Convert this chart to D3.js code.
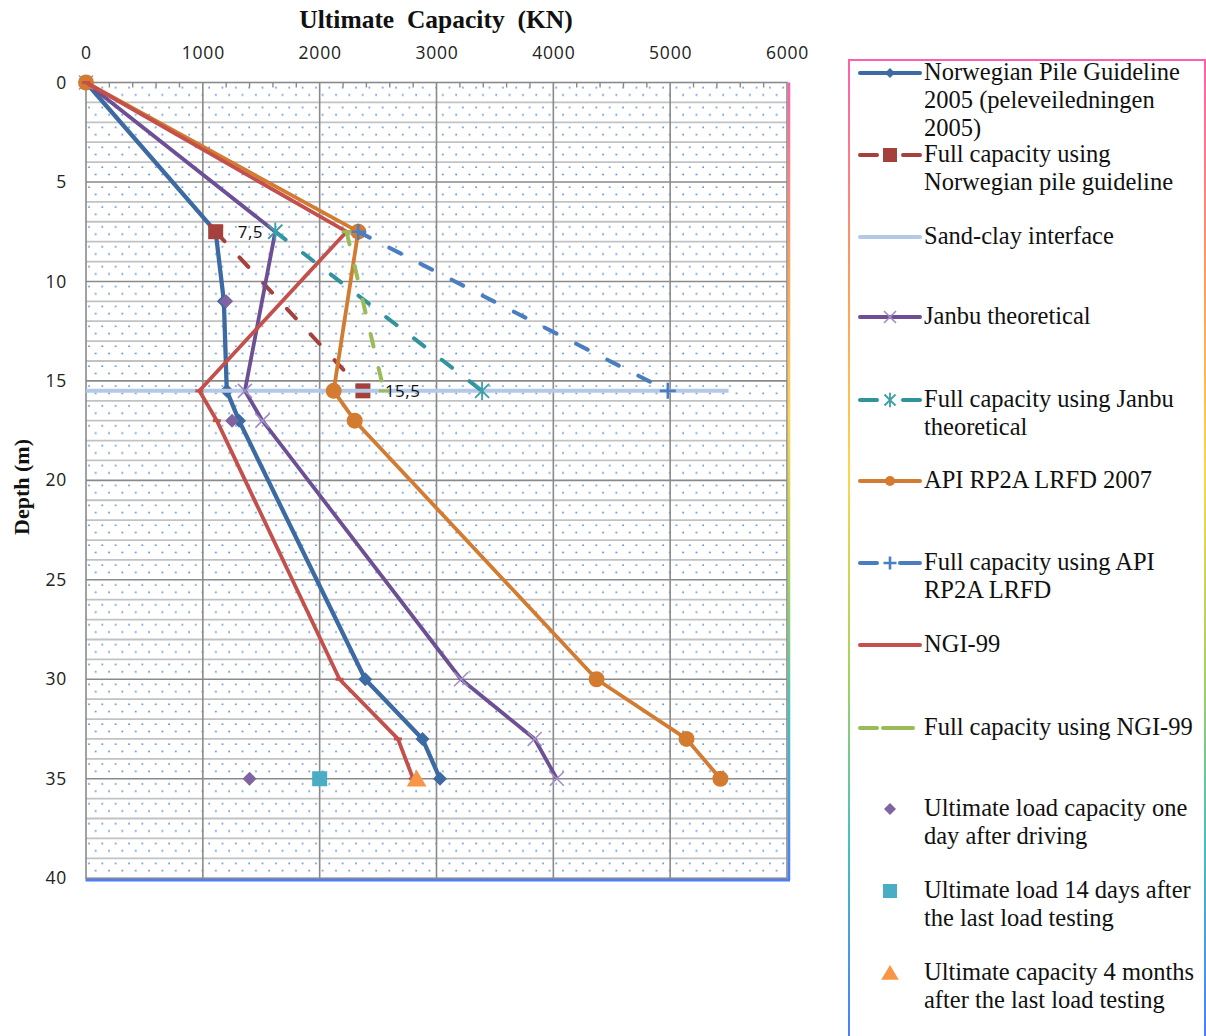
<!DOCTYPE html>
<html><head><meta charset="utf-8">
<script src="https://cdn.jsdelivr.net/npm/d3@7"></script>
<style>body{margin:0;background:#fff}svg{display:block}</style>
</head><body>
<svg id="c" width="1206" height="1036"></svg>
<script>
// ---------------- data ----------------
const xTicks = [0, 1000, 2000, 3000, 4000, 5000, 6000];
const yTicks = [0, 5, 10, 15, 20, 25, 30, 35, 40];
// [capacity kN, depth m]
const norwegian      = [[0,0],[1110,7.5],[1180,11],[1205,15.5],[1310,17],[2390,30],[2880,33],[3030,35]];
const fullNorwegian  = [[1110,7.5],[2370,15.5]];
const fullNorLabels  = ["7,5","15,5"];
const sandClay       = [[0,15.5],[5500,15.5]];
const janbu          = [[0,0],[1620,7.5],[1360,15.5],[1510,17],[3210,30],[3840,33],[4030,35]];
const fullJanbu      = [[1620,7.5],[3390,15.5]];
const api            = [[0,0],[2330,7.5],[2120,15.5],[2300,17],[4370,30],[5140,33],[5430,35]];
const fullApi        = [[2330,7.5],[4980,15.5]];
const ngi            = [[0,0],[2230,7.5],[970,15.5],[1120,17],[2170,30],[2670,33],[2800,35]];
const fullNgi        = [[2230,7.5],[2550,15.5]];
const oneDay         = [[1200,11],[1250,17],[1400,35]];
const days14         = [[2000,35]];
const months4        = [[2830,35]];
const legendLabels = [
  ["Norwegian Pile Guideline","2005 (peleveiledningen","2005)"],
  ["Full capacity using","Norwegian pile guideline"],
  ["Sand-clay interface"],
  ["Janbu theoretical"],
  ["Full capacity using Janbu","theoretical"],
  ["API RP2A LRFD 2007"],
  ["Full capacity using API","RP2A LRFD"],
  ["NGI-99"],
  ["Full capacity using NGI-99"],
  ["Ultimate load capacity one","day after driving"],
  ["Ultimate load 14 days after","the last load testing"],
  ["Ultimate capacity 4 months","after the last load testing"]
];

// ---------------- setup ----------------
const svg = d3.select("#c");
const X0 = 86, X1 = 787, Y0 = 82.5, Y1 = 878.2;
const x = d3.scaleLinear().domain([0,6000]).range([X0,X1]);
const y = d3.scaleLinear().domain([0,40]).range([Y0,Y1]);
const defs = svg.append("defs");

const grad = (id, y1, y2) => {
  const g = defs.append("linearGradient").attr("id", id).attr("gradientUnits","userSpaceOnUse")
    .attr("x1",0).attr("x2",0).attr("y1",y1).attr("y2",y2);
  [["0","#ff5fae"],["0.22","#ff9a5c"],["0.42","#ffd54a"],["0.62","#a6d35a"],["0.8","#45c0c0"],["1","#4a7dff"]]
    .forEach(([o,c]) => g.append("stop").attr("offset",o).attr("stop-color",c));
};
grad("gPlot", Y0, Y1);
grad("gLeg", 60, 1040);

const pat = defs.append("pattern").attr("id","dots").attr("patternUnits","userSpaceOnUse")
  .attr("x",X0).attr("y",Y0).attr("width",(X1-X0)/52.5).attr("height",(Y1-Y0)/40);
pat.append("circle").attr("cx",3).attr("cy",5.1).attr("r",0.95).attr("fill","#5d8fd6");
pat.append("circle").attr("cx",3+(X1-X0)/105).attr("cy",12.4).attr("r",0.95).attr("fill","#5d8fd6");

// plot background
svg.append("rect").attr("x",X0).attr("y",Y0).attr("width",X1-X0).attr("height",Y1-Y0).attr("fill","#fff");
svg.append("rect").attr("x",X0).attr("y",Y0).attr("width",X1-X0).attr("height",Y1-Y0).attr("fill","url(#dots)");

// horizontal grid every 1 m
const g = svg.append("g");
g.selectAll("line.h").data(d3.range(1,40)).join("line")
  .attr("x1",X0).attr("x2",X1).attr("y1",d=>y(d)).attr("y2",d=>y(d))
  .attr("stroke",d=>d%5===0?"#8a8a8a":"#c2c2c2").attr("stroke-width",d=>d%5===0?1.6:1.8);
// vertical grid
g.selectAll("line.v").data(xTicks.slice(1,-1)).join("line")
  .attr("x1",d=>x(d)).attr("x2",d=>x(d)).attr("y1",Y0).attr("y2",Y1)
  .attr("stroke","#8a8a8a").attr("stroke-width",1.6);
// plot border (gray)
svg.append("rect").attr("x",X0).attr("y",Y0).attr("width",X1-X0).attr("height",Y1-Y0)
  .attr("fill","none").attr("stroke","#8a8a8a").attr("stroke-width",1.6);
// top minor ticks
svg.append("g").selectAll("line").data(d3.range(0,6001,200).filter(v=>v%1000!==0)).join("line")
  .attr("x1",d=>x(d)).attr("x2",d=>x(d)).attr("y1",Y0).attr("y2",Y0+5)
  .attr("stroke","#8a8a8a").attr("stroke-width",1.4);
// chart-area gradient border (right, bottom)
svg.append("line").attr("x1",X1+2).attr("x2",X1+2).attr("y1",Y0).attr("y2",Y1+2)
  .attr("stroke","url(#gPlot)").attr("stroke-width",2.5);
svg.append("line").attr("x1",X0-0.5).attr("x2",X1+3).attr("y1",Y1+2).attr("y2",Y1+2)
  .attr("stroke","#4a7dff").attr("stroke-width",2.5);

// axes labels
const xa = d3.axisTop(x).tickValues(xTicks).tickFormat(d3.format("d")).tickSize(0).tickPadding(0);
svg.append("g").attr("transform",`translate(0,59)`).call(xa)
  .call(s=>s.select(".domain").remove())
  .selectAll("text").attr("font-family","Open Sans").attr("font-size",17.5).attr("fill","#222")
  .attr("letter-spacing",0.8).attr("dy",0);
const ya = d3.axisLeft(y).tickValues(yTicks).tickFormat(d3.format("d")).tickSize(0).tickPadding(0);
svg.append("g").attr("transform",`translate(67,0)`).call(ya)
  .call(s=>s.select(".domain").remove())
  .selectAll("text").attr("font-family","Open Sans").attr("font-size",17.5).attr("fill","#222")
  .attr("letter-spacing",0.8);

svg.append("text").attr("x",436).attr("y",28).attr("text-anchor","middle")
  .attr("font-family","Liberation Serif").attr("font-weight","bold").attr("font-size",25.5)
  .attr("fill","#111").style("white-space","pre").text("Ultimate  Capacity  (KN)");
svg.append("text").attr("transform","translate(29,487) rotate(-90)").attr("text-anchor","middle")
  .attr("font-family","Liberation Serif").attr("font-weight","bold").attr("font-size",22)
  .attr("fill","#111").text("Depth (m)");

// ---------------- markers ----------------
function marker(sel, type, cx, cy, col, sz){
  const s = sel.append("g").attr("transform",`translate(${cx},${cy})`);
  if(type==="diamond") s.append("path").attr("d",`M0,${-sz}L${sz},0L0,${sz}L${-sz},0Z`).attr("fill",col);
  else if(type==="square") s.append("rect").attr("x",-sz).attr("y",-sz).attr("width",2*sz).attr("height",2*sz).attr("fill",col);
  else if(type==="circle") s.append("circle").attr("r",sz).attr("fill",col);
  else if(type==="triangle") s.append("path").attr("d",`M0,${-sz}L${sz*1.1},${sz*0.85}L${-sz*1.1},${sz*0.85}Z`).attr("fill",col);
  else if(type==="x") s.append("path").attr("d",`M${-sz},${-sz}L${sz},${sz}M${-sz},${sz}L${sz},${-sz}`).attr("stroke",col).attr("stroke-width",1.6);
  else if(type==="star") s.append("path").attr("d",`M${-sz},${-sz}L${sz},${sz}M${-sz},${sz}L${sz},${-sz}M0,${-sz*1.3}L0,${sz*1.3}`).attr("stroke",col).attr("stroke-width",1.8);
  else if(type==="plus") s.append("path").attr("d",`M${-sz},0L${sz},0M0,${-sz}L0,${sz}`).attr("stroke",col).attr("stroke-width",2.6);
  else if(type==="dash") s.append("path").attr("d",`M${-sz},0L${sz},0`).attr("stroke",col).attr("stroke-width",3);
}

const series = [
  {data:norwegian, col:"#3c6aa3", w:4.3, dash:null, m:"diamond", mc:"#3c6aa3", ms:7},
  {data:fullNorwegian, col:"#a5403d", w:4, dash:"13,22", m:"square", mc:"#a5403d", ms:7.5},
  {data:sandClay, col:"#b4c9e6", w:4, dash:null, m:null},
  {data:janbu, col:"#6c4f95", w:3.8, dash:null, m:"x", mc:"#a28dc4", ms:7},
  {data:fullJanbu, col:"#31939e", w:4, dash:"13,22", m:"star", mc:"#3aa0ab", ms:7},
  {data:api, col:"#d27b31", w:3.8, dash:null, m:"circle", mc:"#d27b31", ms:8},
  {data:fullApi, col:"#4a7ec1", w:4, dash:"13,22", m:"plus", mc:"#4a7ec1", ms:8},
  {data:ngi, col:"#c4504c", w:3.8, dash:null, m:"dash", mc:"#c4504c", ms:4},
  {data:fullNgi, col:"#9bbb59", w:4, dash:"13,22", m:"dash", mc:"#9bbb59", ms:5},
];
const line = d3.line().x(d=>x(d[0])).y(d=>y(d[1]));
const plot = svg.append("g");
series.forEach(s=>{
  const p = plot.append("path").attr("d",line(s.data)).attr("fill","none")
    .attr("stroke",s.col).attr("stroke-width",s.w).attr("stroke-linejoin","round");
  if(s.dash) p.attr("stroke-dasharray",s.dash).attr("stroke-linecap","round");
  if(s.m) s.data.forEach(d=>marker(plot,s.m,x(d[0]),y(d[1]),s.mc,s.ms));
});
// data labels of full capacity (Norwegian)
fullNorwegian.forEach((d,i)=>{
  plot.append("text").attr("x",x(d[0])+22).attr("y",y(d[1])).attr("dy","0.35em")
    .attr("font-family","Open Sans").attr("font-size",17).attr("fill","#111").attr("letter-spacing",0.5)
    .text(fullNorLabels[i]);
});
// scatter
oneDay.forEach(d=>marker(plot,"diamond",x(d[0]),y(d[1]),"#8064a2",7));
days14.forEach(d=>marker(plot,"square",x(d[0]),y(d[1]),"#4bacc6",7.5));
months4.forEach(d=>marker(plot,"triangle",x(d[0]),y(d[1]),"#f79646",9));

// ---------------- legend ----------------
svg.append("rect").attr("x",849).attr("y",60).attr("width",356).attr("height",990)
  .attr("fill","#fff").attr("stroke","url(#gLeg)").attr("stroke-width",2);
const legY = [73,155,237,317,400,481,563,645,728,809,891,973];
const legDef = [
  {col:"#3c6aa3", m:"diamond", mc:"#3c6aa3", ms:5, seg:[[860,920]]},
  {col:"#a5403d", m:"square", mc:"#a5403d", ms:7, seg:[[860,877],[903,920]]},
  {col:"#b4c9e6", seg:[[860,920]]},
  {col:"#6c4f95", m:"x", mc:"#a28dc4", ms:6, seg:[[860,920]]},
  {col:"#31939e", m:"star", mc:"#3aa0ab", ms:5.5, seg:[[860,877],[903,920]]},
  {col:"#d27b31", m:"circle", mc:"#d27b31", ms:5, seg:[[860,920]]},
  {col:"#4a7ec1", m:"plus", mc:"#4a7ec1", ms:6.5, seg:[[860,877],[900,920]]},
  {col:"#c4504c", seg:[[860,920]]},
  {col:"#9bbb59", seg:[[860,877],[883,913]]},
  {m:"diamond", mc:"#8064a2", ms:6},
  {m:"square", mc:"#4bacc6", ms:7},
  {m:"triangle", mc:"#f79646", ms:8},
];
const leg = svg.append("g");
legDef.forEach((l,i)=>{
  const cy = legY[i];
  (l.seg||[]).forEach(sg=>leg.append("line").attr("x1",sg[0]).attr("x2",sg[1]).attr("y1",cy).attr("y2",cy)
    .attr("stroke",l.col).attr("stroke-width",4).attr("stroke-linecap","round"));
  if(l.m) marker(leg,l.m,890,cy,l.mc,l.ms);
  const t = leg.append("text").attr("x",924).attr("y",cy+7)
    .attr("font-family","Liberation Serif").attr("font-size",24.5).attr("fill","#111");
  legendLabels[i].forEach((s,j)=>t.append("tspan").attr("x",924).attr("dy",j?28:0).text(s));
});
</script>
</body></html>
